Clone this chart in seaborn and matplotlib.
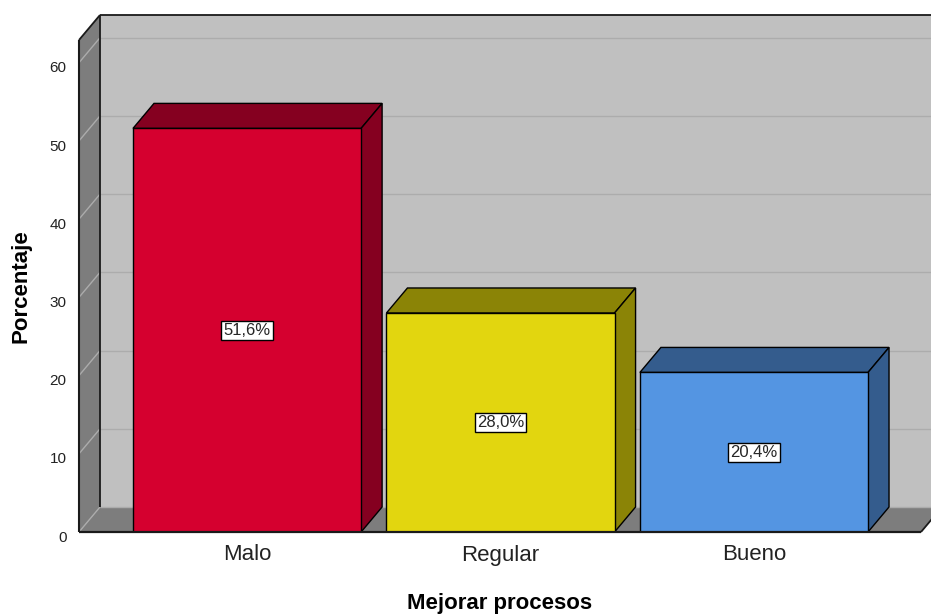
import matplotlib
matplotlib.use("Agg")
import matplotlib.pyplot as plt
import seaborn as sns
import pandas as pd
from matplotlib.patches import Polygon
from matplotlib.transforms import ScaledTranslation

# Datos
categorias = ["Malo", "Regular", "Bueno"]
porcentajes = [51.6, 28.0, 20.4]
etiquetas = ["51,6%", "28,0%", "20,4%"]
ticks_y = [0, 10, 20, 30, 40, 50, 60]
colores_frente = ["#d5002f", "#e2d60f", "#5495e2"]
colores_sombra = ["#850020", "#8b8406", "#345c8d"]

sns.set_theme(style="white")
plt.rcParams["font.family"] = ["Liberation Sans", "DejaVu Sans"]

W, H, DPI = 931, 614, 100
fig = plt.figure(figsize=(W / DPI, H / DPI), dpi=DPI)
fig.patch.set_facecolor("white")
ax = fig.add_axes([79 / W, (H - 532) / H, 842 / W, 492 / H])

df = pd.DataFrame({"Mejorar procesos": categorias, "Porcentaje": porcentajes})
sns.barplot(data=df, x="Mejorar procesos", y="Porcentaje", hue="Mejorar procesos",
            palette=colores_frente, width=0.9, saturation=1, edgecolor="black",
            linewidth=1.0, legend=False, ax=ax)

x0, x1, ytop = -0.663, 2.659, 62.9
ax.set_xlim(x0, x1)
ax.set_ylim(0, ytop)

# profundidad del efecto 3D (en píxeles), convertida a unidades de datos
inv = ax.transData.inverted()
base = ax.transData.transform((0, 0))
dx, dy = inv.transform(base + [21, 25])

def poly(pts, fc, z, ec="none", lw=0):
    ax.add_patch(Polygon(pts, closed=True, facecolor=fc, edgecolor=ec, linewidth=lw,
                         clip_on=False, zorder=z))

def line(xs, ys, color, lw, z):
    ax.plot(xs, ys, color=color, lw=lw, clip_on=False, zorder=z, solid_capstyle="butt")

# pared del fondo, pared izquierda y suelo
poly([(x0 + dx, dy), (x1 + dx + 1, dy), (x1 + dx + 1, ytop + dy), (x0 + dx, ytop + dy)], "#c0c0c0", 0)
for v in ticks_y[1:]:
    line([x0 + dx, x1 + dx + 1], [v + dy, v + dy], "#acacac", 1.0, 0.5)
poly([(x0, 0), (x0, ytop), (x0 + dx, ytop + dy), (x0 + dx, dy)], "#7d7d7d", 1)
poly([(x0, 0), (x1, 0), (x1 + dx, dy), (x0 + dx, dy)], "#7d7d7d", 1)
for v in ticks_y[1:]:
    line([x0, x0 + dx], [v, v + dy], "#acacac", 1.0, 1.5)
line([x0, x0 + dx], [0, dy], "#acacac", 1.0, 1.5)
line([x0 + dx, x1 + dx], [dy, dy], "#acacac", 1.0, 1.5)

# aristas
k = "#1a1a1a"
line([x0 + dx, x0 + dx], [dy, ytop + dy], k, 1.3, 2)
line([x0 + dx, x1 + dx + 1], [ytop + dy, ytop + dy], k, 1.3, 2)
line([x0, x0 + dx], [ytop, ytop + dy], k, 1.3, 2)
line([x0, x0], [0, ytop], k, 1.5, 2)
line([x1, x1 + dx], [0, dy], k, 1.3, 2)

# barras: cara superior, lateral y etiqueta
for p, cs, lab in zip(ax.patches, colores_sombra, etiquetas):
    p.set_zorder(5)
    bx0 = p.get_x()
    bx1 = bx0 + p.get_width()
    h = p.get_height()
    poly([(bx0, h), (bx1, h), (bx1 + dx, h + dy), (bx0 + dx, h + dy)], cs, 4, ec="black", lw=1.0)
    poly([(bx1, 0), (bx1, h), (bx1 + dx, h + dy), (bx1 + dx, dy)], cs, 4, ec="black", lw=1.0)
    ax.text((bx0 + bx1) / 2, h / 2, lab, ha="center", va="center", fontsize=12, zorder=7,
            bbox=dict(boxstyle="square,pad=0.12", fc="white", ec="black", lw=1.0))

line([x0, x1], [0, 0], k, 1.6, 6)

for s in ax.spines.values():
    s.set_visible(False)
ax.patch.set_visible(False)
ax.grid(False)
ax.set_yticks(ticks_y)
ax.set_yticklabels([str(t) for t in ticks_y])
ax.tick_params(axis="y", length=0, pad=9, labelsize=11, labelcolor="#222222")
ax.tick_params(axis="x", length=0, pad=9, labelsize=16, labelcolor="#222222")
shift = ScaledTranslation(0, -3 / 72, fig.dpi_scale_trans)
for t in ax.get_yticklabels():
    t.set_transform(t.get_transform() + shift)
ax.set_xlabel("Mejorar procesos", fontsize=16, fontweight="bold", labelpad=20, color="black")
ax.set_ylabel("Porcentaje", fontsize=16, fontweight="bold", labelpad=13, color="black")

fig.savefig("out.png", dpi=DPI, facecolor="white")
